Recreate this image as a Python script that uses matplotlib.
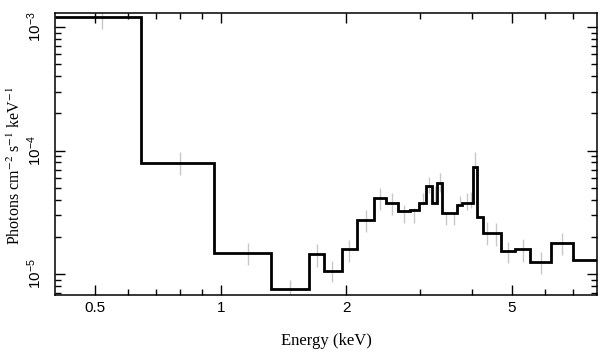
import matplotlib.pyplot as plt
import numpy as np

plt.rcParams['mathtext.fontset'] = 'custom'
plt.rcParams['mathtext.rm'] = 'Liberation Sans'
plt.rcParams['mathtext.it'] = 'Liberation Sans:italic'
plt.rcParams['mathtext.bf'] = 'Liberation Sans:bold'

# folded model, one value per channel bin (keV edges)
edges = [0.4, 0.644, 0.962, 1.319, 1.626, 1.767, 1.952, 2.121, 2.338, 2.489,
         2.657, 2.850, 2.985, 3.110, 3.208, 3.311, 3.404, 3.684, 3.802, 4.035,
         4.125, 4.253, 4.712, 5.081, 5.521, 6.218, 7.008, 8.0]
model = [1.2e-3, 7.9e-5, 1.47e-5, 7.6e-6, 1.45e-5, 1.06e-5, 1.58e-5, 2.75e-5,
         4.15e-5, 3.73e-5, 3.22e-5, 3.28e-5, 3.75e-5, 5.16e-5, 3.75e-5, 5.48e-5,
         3.13e-5, 3.63e-5, 3.75e-5, 7.4e-5, 2.88e-5, 2.15e-5, 1.53e-5, 1.58e-5,
         1.25e-5, 1.79e-5, 1.31e-5]

# data error bars (energy, lower, upper)
err_e = [0.52, 0.80, 1.16, 1.47, 1.70, 1.85, 2.03, 2.23, 2.41, 2.57, 2.75, 2.91,
         3.05, 3.16, 3.26, 3.35, 3.47, 3.62, 3.75, 3.89, 3.98, 4.07, 4.26, 4.36,
         4.58, 4.89, 5.30, 5.87, 6.59]
err_lo = [9.6e-4, 6.3e-5, 1.18e-5, 6.1e-6, 1.14e-5, 8.6e-6, 1.26e-5, 2.2e-5,
          3.3e-5, 3.0e-5, 2.6e-5, 2.6e-5, 3.6e-5, 4.5e-5, 3.8e-5, 4.6e-5, 2.5e-5,
          2.5e-5, 3.6e-5, 3.3e-5, 3.4e-5, 7.2e-5, 2.3e-5, 1.72e-5, 1.67e-5,
          1.22e-5, 1.26e-5, 1.0e-5, 1.42e-5]
err_hi = [1.45e-3, 9.7e-5, 1.78e-5, 8.9e-6, 1.75e-5, 1.28e-5, 1.9e-5, 3.3e-5,
          4.95e-5, 4.5e-5, 3.6e-5, 3.4e-5, 4.5e-5, 6.1e-5, 5.2e-5, 6.6e-5, 3.1e-5,
          3.1e-5, 4.3e-5, 4.5e-5, 4.6e-5, 9.7e-5, 2.9e-5, 2.65e-5, 2.6e-5,
          1.83e-5, 1.91e-5, 1.52e-5, 2.13e-5]

xticks = [0.5, 1, 2, 5]
xticklabels = ['0.5', '1', '2', '5']
yticks = [1e-5, 1e-4, 1e-3]
yticklabels = [r'$10^{-5}$', r'$10^{-4}$', r'$10^{-3}$']

fig = plt.figure(figsize=(6.09, 3.57), dpi=100)
ax = fig.add_axes([0.0903, 0.1737, 0.89, 0.79])

ax.vlines(err_e, err_lo, err_hi, color='#c8c8c8', lw=1, zorder=1)
ax.stairs(model, edges, baseline=None, color='black', lw=2, zorder=2)

ax.set_xscale('log')
ax.set_yscale('log')
ax.set_xlim(0.4, 8.0)
ax.set_ylim(6.76e-6, 1.30e-3)

ax.set_xticks(xticks)
ax.set_xticklabels(xticklabels, family='Liberation Sans', fontsize=11)
ax.set_xticks([0.6, 0.7, 0.8, 0.9, 3, 4, 6, 7], minor=True)
ax.xaxis.set_minor_formatter(plt.NullFormatter())
ax.set_yticks(yticks)
ax.set_yticklabels(yticklabels, fontsize=11, rotation=90, va='center')

ax.tick_params(which='both', direction='in', top=True, right=True, width=1)
ax.tick_params(which='major', length=7)
ax.tick_params(which='minor', length=4)
ax.tick_params(axis='x', pad=4)
ax.tick_params(axis='y', pad=8)
for s in ax.spines.values():
    s.set_linewidth(1.1)

ax.set_xlabel('Energy (keV)', family='Liberation Serif', fontsize=12, labelpad=13)
ax.set_ylabel(r'Photons cm$^{-2}$ s$^{-1}$ keV$^{-1}$', family='Liberation Serif',
              fontsize=11.5, math_fontfamily='stix')
ax.yaxis.set_label_coords(-0.057, 0.46)

fig.savefig('out.png', dpi=100)
